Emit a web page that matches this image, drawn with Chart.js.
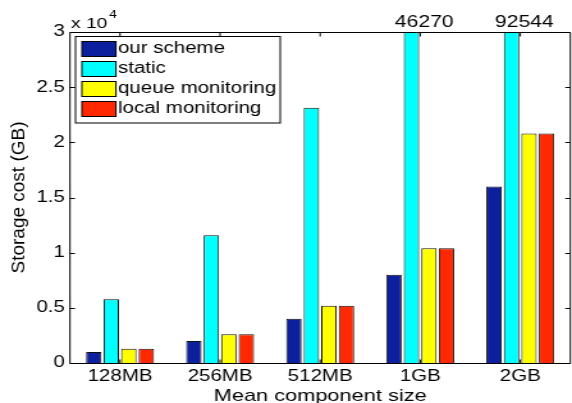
<!DOCTYPE html>
<html>
<head>
<meta charset="utf-8">
<script src="https://cdn.jsdelivr.net/npm/chart.js@4"></script>
<style>
  html, body { margin: 0; padding: 0; background: #fff; overflow: hidden; }
  #wrap { width: 572px; height: 403px; overflow: hidden; }
  /* the original figure is stretched sideways, so draw narrow and widen it */
  #myChart { display: block; transform: scaleX(1.2796); transform-origin: 0 0; }
</style>
</head>
<body>
<div id="wrap"><canvas id="myChart" width="447" height="403"></canvas></div>
<script>
// storage cost per mean component size (GB)
const categories = ['128MB', '256MB', '512MB', '1GB', '2GB'];
const ourScheme = [1000, 2000, 4000, 8000, 16000];
const staticCost = [5784, 11568, 23135, 46270, 92544];
const queueMonitoring = [1300, 2600, 5200, 10400, 20800];
const localMonitoring = [1300, 2600, 5200, 10400, 20800];

const seriesNames = ['our scheme', 'static', 'queue monitoring', 'local monitoring'];
const seriesColors = ['#0C1F9C', '#00FFFF', '#FFFF00', '#FF2800'];

const yMax = 30000;
const yStep = 5000;

const STRETCH = 1.2796;
const FONT = '"Liberation Sans", Arial, Helvetica, sans-serif';

Chart.defaults.font.family = FONT;
Chart.defaults.color = '#000';

// frame, inward ticks, legend, labels (matlab look)
const matlabBits = {
  id: 'matlabBits',
  afterDraw(chart) {
    const {ctx, chartArea: a, scales: {x, y}} = chart;
    ctx.save();

    // box
    ctx.strokeStyle = '#000';
    ctx.lineWidth = 1;
    const top = Math.round(a.top) + 0.5;
    const bottom = Math.round(a.bottom) + 0.5;
    ctx.beginPath();
    ctx.moveTo(a.left, top); ctx.lineTo(a.right, top);
    ctx.moveTo(a.left, bottom); ctx.lineTo(a.right, bottom);
    ctx.moveTo(a.left, top); ctx.lineTo(a.left, bottom);
    ctx.moveTo(a.right, top); ctx.lineTo(a.right, bottom);
    ctx.stroke();

    // ticks pointing in
    const tx = 5 / STRETCH, ty = 4;
    ctx.beginPath();
    y.ticks.forEach(t => {
      const py = Math.round(y.getPixelForValue(t.value)) + 0.5;
      ctx.moveTo(a.left, py); ctx.lineTo(a.left + tx, py);
      ctx.moveTo(a.right, py); ctx.lineTo(a.right - tx, py);
    });
    categories.forEach((c, i) => {
      const px = x.getPixelForValue(i);
      ctx.moveTo(px, bottom); ctx.lineTo(px, bottom - ty);
      ctx.moveTo(px, top); ctx.lineTo(px, top + ty);
    });
    ctx.stroke();

    // values of bars cut off at the top
    ctx.fillStyle = '#000';
    ctx.font = '16.5px ' + FONT;
    ctx.textAlign = 'center';
    ctx.textBaseline = 'alphabetic';
    chart.data.datasets.forEach((ds, di) => {
      const meta = chart.getDatasetMeta(di);
      ds.data.forEach((v, i) => {
        if (v > yMax) {
          ctx.fillText(String(v), meta.data[i].x + 10, 26.5);
        }
      });
    });

    // exponent
    ctx.textAlign = 'left';
    ctx.font = '15px ' + FONT;
    ctx.fillText('x 10', 55.5, 28);
    const w = ctx.measureText('x 10').width;
    ctx.font = '11px ' + FONT;
    ctx.fillText('4', 55.5 + w + 1.5, 18);

    // legend
    const lx = 59, ly = 36.5, lw = 160, lh = 86.5;
    ctx.fillStyle = '#fff';
    ctx.fillRect(lx, ly, lw, lh);
    ctx.strokeStyle = '#000';
    ctx.strokeRect(lx, ly, lw, lh);
    ctx.font = '16px ' + FONT;
    ctx.textBaseline = 'middle';
    chart.data.datasets.forEach((ds, di) => {
      const sy = 41 + di * 20;
      ctx.fillStyle = ds.backgroundColor;
      ctx.fillRect(64, sy, 26.6, 15);
      ctx.strokeStyle = '#000';
      ctx.strokeRect(64, sy + 0.5, 26.6, 15);
      ctx.fillStyle = '#000';
      ctx.fillText(ds.label, 92.2, sy + 8);
    });

    // axis titles
    ctx.textAlign = 'center';
    ctx.textBaseline = 'alphabetic';
    ctx.font = '17px ' + FONT;
    ctx.fillText('Mean component size', (a.left + a.right) / 2, 400.5);

    ctx.translate(14.8, (a.top + a.bottom) / 2);
    ctx.rotate(-Math.PI / 2);
    ctx.scale(1, 1 / STRETCH);
    ctx.textBaseline = 'middle';
    ctx.font = '19px ' + FONT;
    ctx.fillText('Storage cost (GB)', 0, 0);

    ctx.restore();
  }
};

const seriesData = [ourScheme, staticCost, queueMonitoring, localMonitoring];

const data = {
  labels: categories,
  datasets: seriesData.map((d, i) => ({
    label: seriesNames[i],
    data: d,
    backgroundColor: seriesColors[i],
    borderColor: '#111',
    borderWidth: 1,
    categoryPercentage: 0.7,
    barPercentage: 0.88
  }))
};

const config = {
  type: 'bar',
  data: data,
  options: {
    responsive: false,
    animation: false,
    layout: { padding: { top: 32, right: 1.3, left: 0, bottom: 0 } },
    plugins: {
      legend: { display: false },
      tooltip: { enabled: false }
    },
    scales: {
      x: {
        grid: { display: false, drawTicks: false },
        border: { display: false },
        ticks: { font: { size: 16 }, color: '#000', padding: 4, maxRotation: 0, autoSkip: false },
        afterFit(s) { s.height = 40; }
      },
      y: {
        min: 0,
        max: yMax,
        grid: { display: false, drawTicks: false },
        border: { display: false },
        ticks: { stepSize: yStep, font: { size: 16 }, color: '#000', padding: 4,
                 callback: v => v / 10000 },
        afterFit(s) { s.width = 54.7; }
      }
    }
  },
  plugins: [matlabBits]
};

const myChart = new Chart(document.getElementById('myChart'), config);
</script>
</body>
</html>
